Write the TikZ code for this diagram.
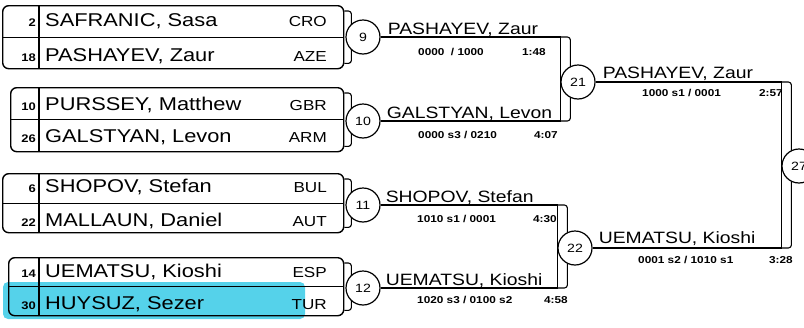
\documentclass[tikz,border=0pt]{standalone}
\usepackage{fontspec}
\setmainfont{Liberation Sans}[FakeStretch=1.18]
\usetikzlibrary{positioning, backgrounds}
\definecolor{marker}{HTML}{55D2EA}

\begin{document}
\begin{tikzpicture}[x=1pt, y=-1pt,
  pool/.style={draw, line width=1.4pt, rounded corners=6pt, anchor=north west, inner sep=0pt},
  seed/.style={anchor=base east, inner sep=0pt, font=\fontsize{11}{12}\selectfont\bfseries},
  player/.style={anchor=base west, inner sep=0pt, font=\fontsize{18.5}{20}\selectfont},
  nation/.style={anchor=base east, inner sep=0pt, font=\fontsize{14.5}{16}\selectfont},
  bout/.style={circle, draw, line width=1.2pt, fill=white, minimum size=34pt, inner sep=0pt, font=\fontsize{12}{12}\selectfont},
  winner/.style={anchor=base west, inner sep=0pt, font=\fontsize{16.4}{18}\selectfont},
  score/.style={anchor=base west, inner sep=0pt, font=\fontsize{10}{10}\selectfont\bfseries},
  clock/.style={anchor=base east, inner sep=0pt, font=\fontsize{10}{10}\selectfont\bfseries},
  wire/.style={line width=1.2pt},
  brace/.style={line width=1.1pt, rounded corners=3pt}
]
  \useasboundingbox (0,0) rectangle (804,327);
  \fill[marker, rounded corners=5pt] (3,282) rectangle (305,319);

  \node[pool, minimum width=341pt, minimum height=63pt] (pool9) at (2,5) {};
  \node[pool, minimum width=333pt, minimum height=64pt] (pool10) at (10,87) {};
  \node[pool, minimum width=341pt, minimum height=59pt] (pool11) at (2,173) {};
  \node[pool, minimum width=335pt, minimum height=58pt] (pool12) at (8,257) {};
  \draw[line width=1.1pt] (pool9.west) -- (pool9.east);
  \draw[line width=1.1pt] (pool10.west) -- (pool10.east);
  \draw[line width=1.1pt] (pool11.west) -- (pool11.east);
  \draw[line width=1.1pt] (pool12.west) -- (pool12.east);
  \draw[line width=1.1pt] (39,5) -- (39,68);
  \draw[line width=1.1pt] (39,87) -- (39,151);
  \draw[line width=1.1pt] (39,173) -- (39,232);
  \draw[line width=1.1pt] (39,257) -- (39,315);

  \node[seed] (s2) at (36,26) {2};
  \node[player] (p2) at (45,26) {SAFRANIC, Sasa};
  \node[nation] (n2) at (327,26) {CRO};
  \node[seed] (s18) at (36,61) {18};
  \node[player] (p18) at (45,61) {PASHAYEV, Zaur};
  \node[nation] (n18) at (327,61) {AZE};
  \node[seed] (s10) at (36,110) {10};
  \node[player] (p10) at (45,110) {PURSSEY, Matthew};
  \node[nation] (n10) at (327,110) {GBR};
  \node[seed] (s26) at (36,142) {26};
  \node[player] (p26) at (45,142) {GALSTYAN, Levon};
  \node[nation] (n26) at (327,142) {ARM};
  \node[seed] (s6) at (36,192) {6};
  \node[player] (p6) at (45,192) {SHOPOV, Stefan};
  \node[nation] (n6) at (327,192) {BUL};
  \node[seed] (s22) at (36,226) {22};
  \node[player] (p22) at (45,226) {MALLAUN, Daniel};
  \node[nation] (n22) at (327,226) {AUT};
  \node[seed] (s14) at (36,277) {14};
  \node[player] (p14) at (45,277) {UEMATSU, Kioshi};
  \node[nation] (n14) at (327,277) {ESP};
  \node[seed] (s30) at (36,309) {30};
  \node[player] (p30) at (45,309) {HUYSUZ, Sezer};
  \node[nation] (n30) at (327,309) {TUR};

  \node[bout] (m9) at (363,37) {9};
  \node[bout] (m10) at (363,121) {10};
  \node[bout] (m11) at (363,205) {11};
  \node[bout] (m12) at (363,288) {12};
  \node[bout] (m21) at (578,82) {21};
  \node[bout] (m22) at (575,248) {22};
  \node[bout] (m27) at (799,166) {27};

  \begin{scope}[on background layer]
    \draw[brace] ([yshift=-6pt]pool9.north east) -- ++(7,0) |- ([yshift=6pt]pool9.south east);
    \draw[brace] ([yshift=-6pt]pool10.north east) -- ++(7,0) |- ([yshift=6pt]pool10.south east);
    \draw[brace] ([yshift=-6pt]pool11.north east) -- ++(7,0) |- ([yshift=6pt]pool11.south east);
    \draw[brace] ([yshift=-6pt]pool12.north east) -- ++(7,0) |- ([yshift=6pt]pool12.south east);
    \draw[wire] (m9) -- (m9 -| m21.west) -- (m10 -| m21.west) -- (m10);
    \draw[brace] (m9 -| m21.west) -- ++(10,0) |- (m10 -| m21.west);
    \draw[wire] (m11) -- (m11 -| m22.west) -- (m12 -| m22.west) -- (m12);
    \draw[brace] (m11 -| m22.west) -- ++(10,0) |- (m12 -| m22.west);
    \draw[wire] (m21) -- (m21 -| m27.west) -- (m22 -| m27.west) -- (m22);
    \draw[brace] (m21 -| m27.west) -- ++(10,0) |- (m22 -| m27.west);
  \end{scope}

  \node[winner] (w9) at ([xshift=7pt, yshift=3pt]m9.east) {PASHAYEV, Zaur};
  \node[score] (r9) at (418,55) {0000 \ / 1000};
  \node[clock] (t9) at (546,55) {1:48};
  \node[winner] (w10) at ([xshift=6pt, yshift=3pt]m10.east) {GALSTYAN, Levon};
  \node[score] (r10) at (418,138) {0000 s3 / 0210};
  \node[clock] (t10) at (558,138) {4:07};
  \node[winner] (w11) at ([xshift=5pt, yshift=3pt]m11.east) {SHOPOV, Stefan};
  \node[score] (r11) at (417,222) {1010 s1 / 0001};
  \node[clock] (t11) at (557,222) {4:30};
  \node[winner] (w12) at ([xshift=5pt, yshift=3pt]m12.east) {UEMATSU, Kioshi};
  \node[score] (r12) at (417,303) {1020 s3 / 0100 s2};
  \node[clock] (t12) at (568,303) {4:58};
  \node[winner] (w21) at ([xshift=7pt, yshift=4pt]m21.east) {PASHAYEV, Zaur};
  \node[score] (r21) at (642,96) {1000 s1 / 0001};
  \node[clock] (t21) at (783,96) {2:57};
  \node[winner] (w22) at ([xshift=6pt, yshift=5pt]m22.east) {UEMATSU, Kioshi};
  \node[score] (r22) at (638,263) {0001 s2 / 1010 s1};
  \node[clock] (t22) at (793,263) {3:28};
\end{tikzpicture}
\end{document}
